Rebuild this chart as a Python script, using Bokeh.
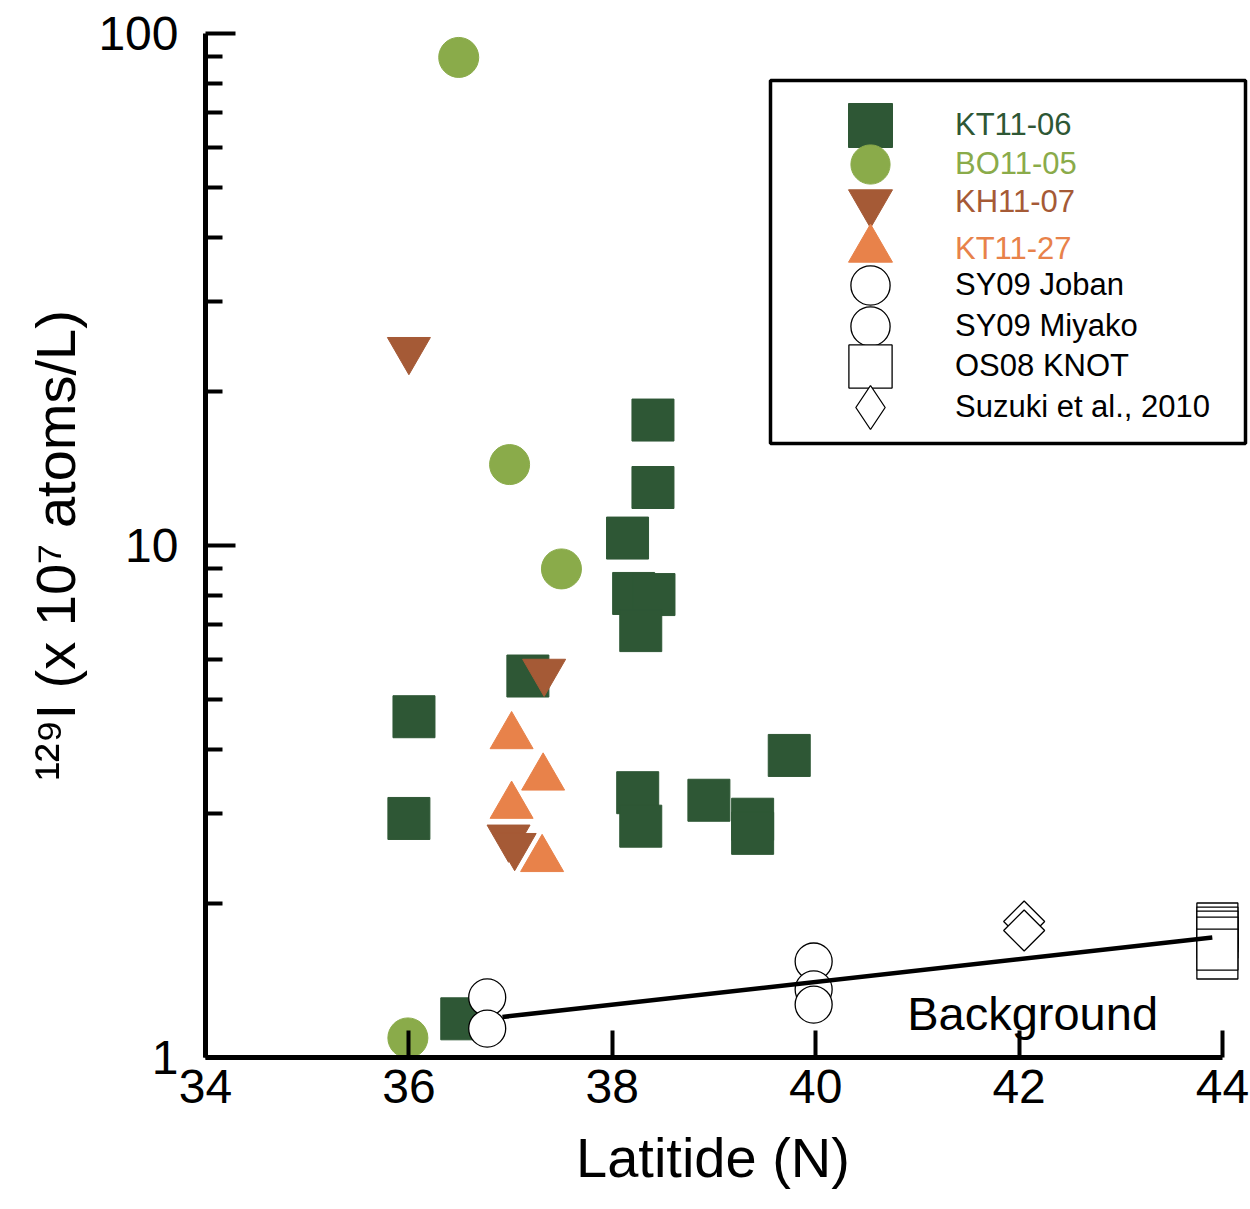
from bokeh.plotting import figure
from bokeh.models import (FixedTicker, Legend, LegendItem, BoxAnnotation, Label)
from bokeh.embed import file_html
from bokeh.resources import INLINE

# ---------------- data ----------------
kt1106_lat = [36.00, 36.05, 37.17, 38.15, 38.40, 38.40, 38.21, 38.41, 38.28,
              38.25, 38.28, 38.95, 39.38, 39.38, 39.74, 36.52]
kt1106_val = [2.93, 4.63, 5.56, 10.34, 17.58, 12.98, 8.06, 8.02, 6.82,
              3.29, 2.83, 3.18, 2.92, 2.74, 3.89, 1.19]

bo1105_lat = [36.49, 36.99, 37.50, 35.99]
bo1105_val = [89.8, 14.39, 9.0, 1.092]

kh1107_lat = [36.00, 37.33, 36.98, 37.04]
kh1107_val = [24.1, 5.67, 2.69, 2.59]

kt1127_lat = [37.01, 37.32, 37.01, 37.31]
kt1127_val = [4.24, 3.52, 3.10, 2.44]

joban_lat = [36.77, 36.77]
joban_val = [1.31, 1.139]

miyako_lat = [39.98, 39.98, 39.98]
miyako_val = [1.54, 1.358, 1.269]

knot_lat = [43.95, 43.95, 43.95, 43.95, 43.95, 43.95]
knot_val = [1.827, 1.794, 1.762, 1.715, 1.561, 1.625]

suzuki_lat = [42.05, 42.05]
suzuki_val = [1.843, 1.77]

bg_lat = [36.92, 43.90]
bg_val = [1.20, 1.715]
bg_text = "Background"
bg_text_pos = (40.90, 1.219)

x_ticks = [34, 36, 38, 40, 42, 44]
y_ticks = [1, 10, 100]
y_tick_labels = ["1", "10", "100"]
y_minor = [2, 3, 4, 5, 6, 7, 8, 9, 20, 30, 40, 50, 60, 70, 80, 90]

x_title = "Latitide (N)"
y_title = "\u00b9\u00b2\u2079I (x 10\u2077 atoms/L)"

series_names = ["KT11-06", "BO11-05", "KH11-07", "KT11-27",
                "SY09 Joban", "SY09 Miyako", "OS08 KNOT", "Suzuki et al., 2010"]

# ---------------- style ----------------
FONT = "Liberation Sans"
C_KT06 = "#2e5735"
C_BO05 = "#8aab4a"
C_KH07 = "#a55a36"
C_KT27 = "#e8824a"

# frame spans x 34 .. 44.256 so that the legend box may overhang the axis end;
# the axis itself is bounded to 34..44
p = figure(width=1250, height=1209, x_range=(34, 44.256), y_range=(1, 100),
           y_axis_type="log", output_backend="svg", toolbar_location=None,
           min_border_left=205, min_border_right=2, min_border_top=33,
           min_border_bottom=152)
p.outline_line_color = None
p.grid.visible = False

xa = p.xaxis[0]
xa.ticker = FixedTicker(ticks=x_ticks)
xa.bounds = (34, 44)
ya = p.yaxis[0]
ya.ticker = FixedTicker(ticks=y_ticks, minor_ticks=y_minor)
ya.major_label_overrides = {t: l for t, l in zip(y_ticks, y_tick_labels)}

for ax in (xa, ya):
    ax.axis_line_width = 5
    ax.axis_line_color = "black"
    ax.major_tick_line_width = 4
    ax.major_tick_line_color = "black"
    ax.minor_tick_line_width = 4
    ax.minor_tick_line_color = "black"
    ax.major_tick_out = 0
    ax.minor_tick_out = 0
    ax.major_label_text_font = FONT
    ax.major_label_text_font_size = "48px"
    ax.major_label_text_color = "black"
    ax.axis_label_text_font = FONT
    ax.axis_label_text_font_style = "normal"
    ax.axis_label_text_color = "black"

xa.major_tick_in = 27
xa.minor_tick_in = 0
xa.minor_tick_line_color = None
xa.major_label_standoff = 12
# the frame runs 26px past the axis end; an en space after the title keeps
# the visible text centred under the 34..44 span
xa.axis_label = x_title + "\u2002"
xa.axis_label_text_font_size = "56px"
xa.axis_label_standoff = 20

ya.major_tick_in = 30
ya.minor_tick_in = 17
ya.major_label_standoff = 27
ya.axis_label = y_title
ya.axis_label_text_font_size = "56px"
ya.axis_label_standoff = 8

# ---------------- glyphs ----------------
r_kt06 = p.scatter(kt1106_lat, kt1106_val, marker="square", size=42,
                   fill_color=C_KT06, line_color=C_KT06, line_width=1)
r_bo05 = p.scatter(bo1105_lat, bo1105_val, marker="circle", size=40,
                   fill_color=C_BO05, line_color=C_BO05, line_width=1)
r_kh07 = p.scatter(kh1107_lat, kh1107_val, marker="inverted_triangle", size=43,
                   fill_color=C_KH07, line_color=C_KH07, line_width=1)
r_kt27 = p.scatter(kt1127_lat, kt1127_val, marker="triangle", size=43,
                   fill_color=C_KT27, line_color=C_KT27, line_width=1)
r_joban = p.scatter(joban_lat, joban_val, marker="circle", size=37,
                    fill_color="white", line_color="black", line_width=1.3)
r_miyako = p.scatter(miyako_lat, miyako_val, marker="circle", size=37,
                     fill_color="white", line_color="black", line_width=1.3)
r_knot = p.scatter(knot_lat, knot_val, marker="square", size=41,
                   fill_color="white", line_color="black", line_width=1.3)
# legend key for the Suzuki series (legend keys are drawn unrotated); it lies
# fully under the rotated squares drawn next
r_suzuki_key = p.scatter(suzuki_lat, suzuki_val, marker="diamond", size=37,
                         fill_color="white", line_color="black", line_width=1.3)
r_suzuki = p.scatter(suzuki_lat, suzuki_val, marker="square", size=29,
                     angle=0.7853981634, fill_color="white",
                     line_color="black", line_width=1.3)

p.line(bg_lat, bg_val, line_width=4.5, line_color="black")

p.add_layout(Label(x=bg_text_pos[0], y=bg_text_pos[1], text=bg_text,
                   text_font=FONT, text_font_size="47px", text_color="black",
                   text_baseline="alphabetic"))

# ---------------- legend (frame-relative pixels) ----------------
box = BoxAnnotation(left=565, right=1040, bottom=614, top=977,
                    left_units="screen", right_units="screen",
                    bottom_units="screen", top_units="screen",
                    fill_color="white", fill_alpha=1.0,
                    line_color="black", line_alpha=1.0, line_width=3.5)
p.add_layout(box)

renderers = [r_kt06, r_bo05, r_kh07, r_kt27, r_joban, r_miyako, r_knot, r_suzuki_key]
colors = [C_KT06, C_BO05, C_KH07, C_KT27, "black", "black", "black", "black"]
row_y = [125, 164, 202, 249, 285, 326, 366, 407]       # page px
glyph_box = [110, 98, 110, 110, 98, 98, 108, 110]
FRAME_BOTTOM = 1057
MARK_X = 665
LABEL_X = 750

for name, r, c, ry, g in zip(series_names, renderers, colors, row_y, glyph_box):
    vx = MARK_X - g / 2
    vy = (FRAME_BOTTOM - ry) - g / 2
    leg = Legend(items=[LegendItem(label=name, renderers=[r])],
                 location=(vx, vy), orientation="vertical",
                 padding=0, margin=0, spacing=0,
                 glyph_width=g, glyph_height=g,
                 label_standoff=int(LABEL_X - vx - g),
                 label_text_font=FONT, label_text_font_size="31px",
                 label_text_color=c, label_height=20,
                 border_line_alpha=0, background_fill_alpha=0)
    p.add_layout(leg)

open("out.html", "w").write(file_html(p, INLINE))
